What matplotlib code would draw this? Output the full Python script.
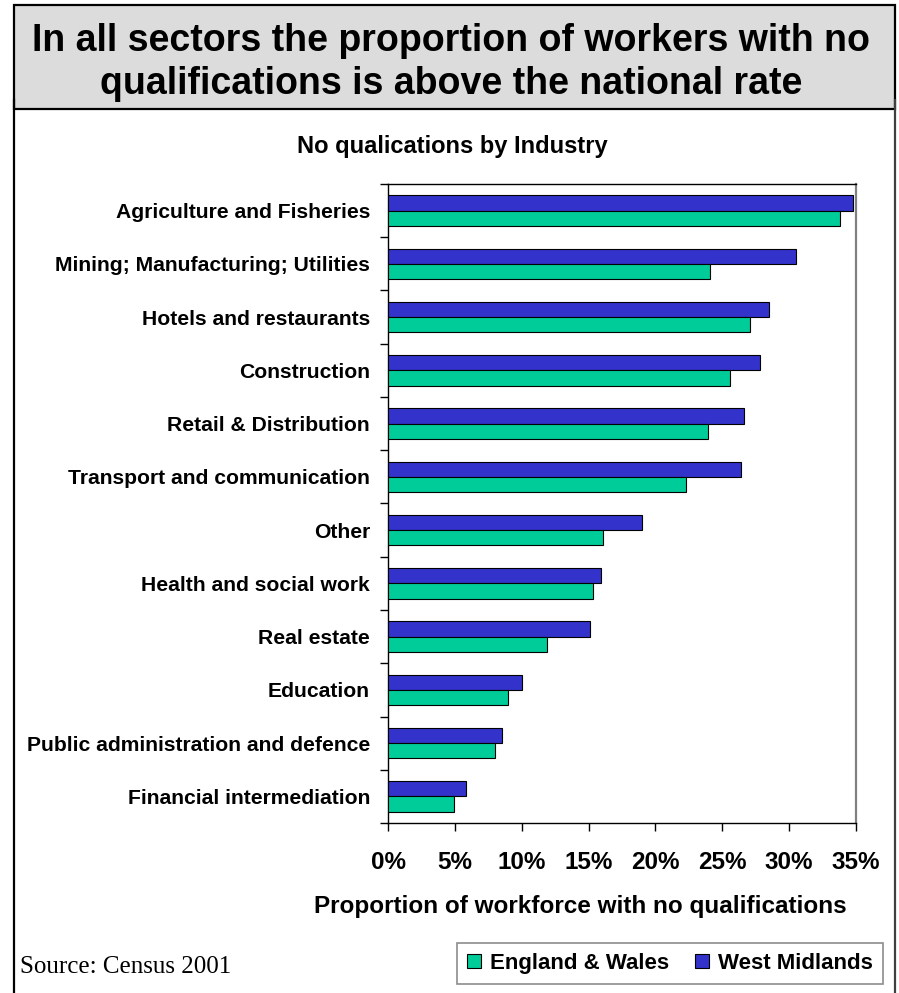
import matplotlib
matplotlib.use("Agg")
import matplotlib.pyplot as plt
from matplotlib.patches import Rectangle, Patch
from matplotlib.lines import Line2D
import numpy as np

plt.rcParams['font.family'] = ['Liberation Sans', 'DejaVu Sans']

industries = [
    "Agriculture and Fisheries",
    "Mining; Manufacturing; Utilities",
    "Hotels and restaurants",
    "Construction",
    "Retail & Distribution",
    "Transport and communication",
    "Other",
    "Health and social work",
    "Real estate",
    "Education",
    "Public administration and defence",
    "Financial intermediation",
]
west_midlands = [34.8, 30.5, 28.5, 27.8, 26.6, 26.4, 19.0, 15.9, 15.1, 10.0, 8.5, 5.8]
england_wales = [33.8, 24.1, 27.1, 25.6, 23.9, 22.3, 16.1, 15.3, 11.9, 9.0, 8.0, 4.9]
x_ticks = [0, 5, 10, 15, 20, 25, 30, 35]
x_tick_labels = ["0%", "5%", "10%", "15%", "20%", "25%", "30%", "35%"]

BLUE = "#3333CC"
GREEN = "#00CC99"

W, H = 899, 993
fig = plt.figure(figsize=(W / 100, H / 100), dpi=100)


def fx(px):
    return px / W


def fy(py):
    return 1 - py / H


# Outer frame and grey headline box
fig.add_artist(Line2D([fx(14), fx(14)], [fy(100), fy(993)], color="black", lw=1.6,
                      transform=fig.transFigure))
fig.add_artist(Line2D([fx(895), fx(895)], [fy(100), fy(993)], color="#404040", lw=1.6,
                      transform=fig.transFigure))
fig.add_artist(Rectangle((fx(14), fy(109)), fx(895) - fx(14), fy(5) - fy(109),
                         transform=fig.transFigure, facecolor="#DCDCDC",
                         edgecolor="black", lw=1.6))
fig.text(fx(451), fy(41), "In all sectors the proportion of workers with no",
         ha="center", va="center", fontsize=27, fontweight="bold")
fig.text(fx(451), fy(84), "qualifications is above the national rate",
         ha="center", va="center", fontsize=27, fontweight="bold")

fig.text(fx(452), fy(147), "No qualications by Industry", ha="center", va="center",
         fontsize=17, fontweight="bold")

ax = fig.add_axes([fx(388), fy(823), fx(856) - fx(388), fy(184) - fy(823)])

n = len(industries)
y = np.arange(n)
h = 1 / 3.5
ax.barh(y - h / 2, west_midlands, height=h, color=BLUE, edgecolor="black", lw=0.8,
        label="West Midlands", zorder=3)
ax.barh(y + h / 2, england_wales, height=h, color=GREEN, edgecolor="black", lw=0.8,
        label="England & Wales", zorder=3)

ax.set_xlim(0, 35)
ax.set_ylim(n - 0.5, -0.5)

ax.set_xticks(x_ticks)
ax.set_xticklabels(x_tick_labels, fontsize=17.5, fontweight="bold")
ax.set_yticks(np.arange(n + 1) - 0.5)
ax.set_yticklabels([])
ax.set_yticks(y, minor=True)
ax.set_yticklabels(industries, minor=True, fontsize=15.2, fontweight="bold")
ax.tick_params(axis="y", which="minor", length=0, pad=13)
ax.tick_params(axis="y", which="major", length=6, width=1, direction="out")
ax.tick_params(axis="x", length=6, width=1, direction="out", pad=14)

for side in ["left", "bottom", "top"]:
    ax.spines[side].set_color("black")
    ax.spines[side].set_linewidth(1)
ax.spines["right"].set_color("#808080")
ax.spines["right"].set_linewidth(1.6)

fig.text(fx(580), fy(907), "Proportion of workforce with no qualifications",
         ha="center", va="center", fontsize=17.5, fontweight="bold")

fig.text(fx(20), fy(967), "Source: Census 2001", ha="left", va="center",
         fontsize=18, family=["Liberation Serif", "DejaVu Serif"])

handles = [Patch(facecolor=GREEN, edgecolor="black", lw=0.8),
           Patch(facecolor=BLUE, edgecolor="black", lw=0.8)]
leg = fig.legend(handles, ["England & Wales", "West Midlands"], loc="center",
                 bbox_to_anchor=(fx(670), fy(963.5)), ncol=2, frameon=True,
                 fancybox=False, edgecolor="#707070",
                 prop={"weight": "bold", "size": 16},
                 handlelength=0.6, handleheight=0.6, handletextpad=0.4,
                 columnspacing=1.2, borderpad=0.45, borderaxespad=0)
leg.get_frame().set_linewidth(1.2)

fig.savefig("out.png", dpi=100)
